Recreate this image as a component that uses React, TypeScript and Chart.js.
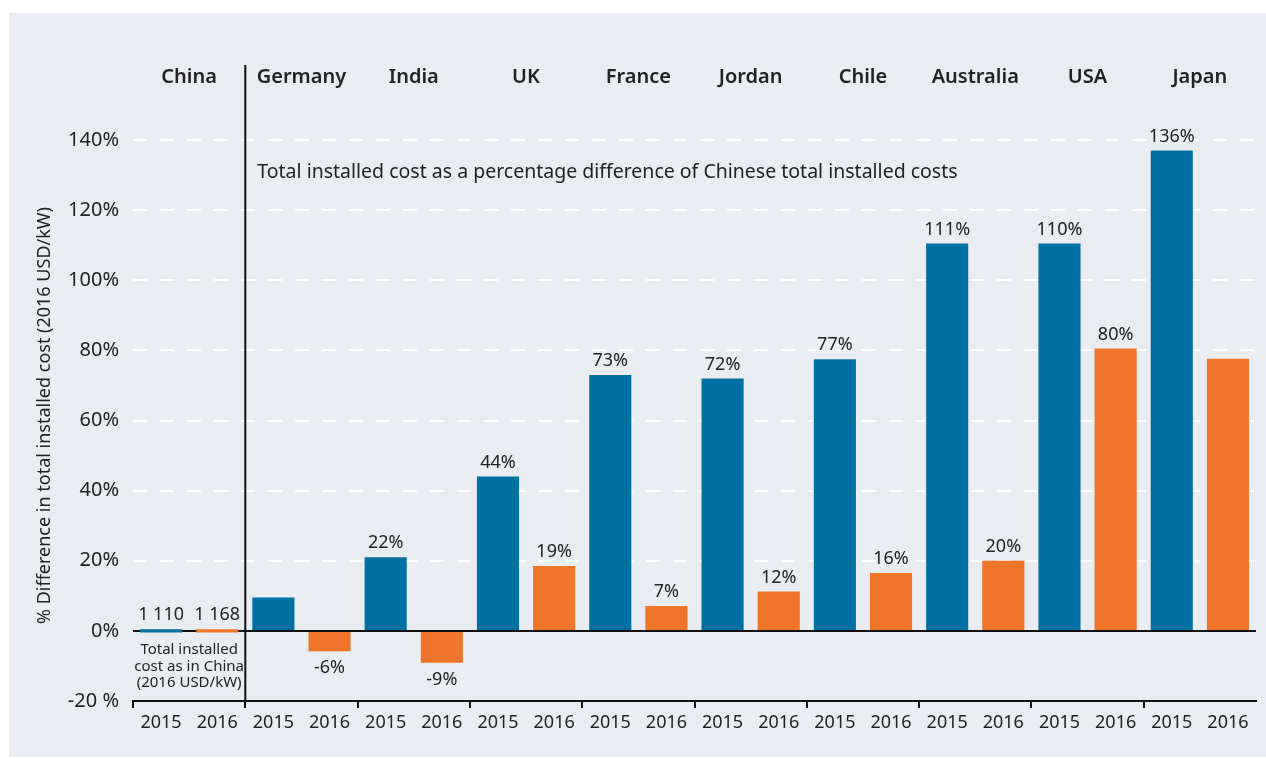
import React, { useEffect, useRef } from "react";
import { Chart, registerables } from "chart.js";

Chart.register(...registerables);

const countries = ["China", "Germany", "India", "UK", "France", "Jordan", "Chile", "Australia", "USA", "Japan"];
const years = ["2015", "2016"];
const values2015 = [0, 9.5, 21, 44, 73, 72, 77.5, 110.5, 110.5, 137];
const values2016 = [0, -5.8, -9.1, 18.5, 7.1, 11.2, 16.5, 20, 80.5, 77.6];
const labels2015 = ["1 110", "", "22%", "44%", "73%", "72%", "77%", "111%", "110%", "136%"];
const labels2016 = ["1 168", "-6%", "-9%", "19%", "7%", "12%", "16%", "20%", "80%", ""];
const yTicks = [-20, 0, 20, 40, 60, 80, 100, 120, 140];
const annotation = "Total installed cost as a percentage difference of Chinese total installed costs";
const chinaNote = ["Total installed", "cost as in China", "(2016 USD/kW)"];
const yTitle = "% Difference in total installed cost (2016 USD/kW)";

const BLUE = "#0070a3";
const ORANGE = "#ee742a";
const BG = "#e9ecf1";
const FONT = "'Noto Sans', sans-serif";

export default function App() {
  const ref = useRef<HTMLCanvasElement>(null);
  useEffect(() => {
    document.body.style.margin = "0";
    const xLabels: string[] = [];
    const data: any[] = [];
    const colors: string[] = [];
    const texts: string[] = [];
    countries.forEach((c, i) => {
      xLabels.push(years[0], years[1]);
      const a = values2015[i];
      const b = values2016[i];
      data.push(a === 0 ? [-0.45, 0.45] : a, b === 0 ? [-0.45, 0.45] : b);
      colors.push(BLUE, ORANGE);
      texts.push(labels2015[i], labels2016[i]);
    });

    const custom = {
      id: "custom",
      beforeDraw(chart: any) {
        const ctx = chart.ctx;
        ctx.save();
        ctx.fillStyle = "#fff";
        ctx.fillRect(0, 0, chart.width, chart.height);
        ctx.fillStyle = BG;
        ctx.fillRect(9, 13, chart.width - 9, chart.height - 14);
        ctx.restore();
      },
      beforeDatasetsDraw(chart: any) {
        const ctx = chart.ctx;
        const y = chart.scales.y;
        const area = chart.chartArea;
        ctx.save();
        ctx.strokeStyle = "#111";
        ctx.lineWidth = 2;
        ctx.beginPath();
        const y0 = y.getPixelForValue(0);
        ctx.moveTo(area.left, y0);
        ctx.lineTo(area.right, y0);
        ctx.stroke();
        ctx.restore();
      },
      afterDatasetsDraw(chart: any) {
        const ctx = chart.ctx;
        const meta = chart.getDatasetMeta(0);
        const x = chart.scales.x;
        const y = chart.scales.y;
        const area = chart.chartArea;
        ctx.save();
        ctx.fillStyle = "#222";
        ctx.textAlign = "center";
        ctx.font = `18px ${FONT}`;
        meta.data.forEach((el: any, i: number) => {
          const t = texts[i];
          if (!t) return;
          const raw = data[i];
          const v = Array.isArray(raw) ? raw[1] : raw;
          if (v >= 0) {
            ctx.textBaseline = "bottom";
            ctx.fillText(t, el.x, Math.min(el.y, el.base) - 5);
          } else {
            ctx.textBaseline = "top";
            ctx.fillText(t, el.x, Math.max(el.y, el.base) + 8);
          }
        });
        // China note
        const cx = (x.getPixelForValue(0) + x.getPixelForValue(1)) / 2;
        ctx.font = `15px ${FONT}`;
        ctx.textBaseline = "middle";
        chinaNote.forEach((l, k) => ctx.fillText(l, cx, y.getPixelForValue(0) + 19 + k * 16.5));
        // separator
        const sx = (x.getPixelForValue(1) + x.getPixelForValue(2)) / 2;
        ctx.strokeStyle = "#111";
        ctx.lineWidth = 2;
        ctx.beginPath();
        ctx.moveTo(sx, 65);
        ctx.lineTo(sx, area.bottom);
        ctx.stroke();
        // country labels
        ctx.font = `600 20px ${FONT}`;
        ctx.textBaseline = "middle";
        countries.forEach((c, i) => {
          const px = (x.getPixelForValue(2 * i) + x.getPixelForValue(2 * i + 1)) / 2;
          ctx.fillText(c, px, 77);
        });
        // annotation
        ctx.font = `19.5px ${FONT}`;
        ctx.textAlign = "left";
        ctx.fillText(annotation, sx + 12, 172);
        // y title
        ctx.translate(45, (area.top + area.bottom) / 2 - 5);
        ctx.rotate(-Math.PI / 2);
        ctx.textAlign = "center";
        ctx.font = `18px ${FONT}`;
        ctx.fillText(yTitle, 0, 0);
        ctx.restore();
      },
    };

    const chart = new Chart(ref.current!, {
      type: "bar",
      data: {
        labels: xLabels,
        datasets: [
          {
            data,
            backgroundColor: colors,
            barPercentage: 0.75,
            categoryPercentage: 1,
          },
        ],
      },
      options: {
        animation: false,
        responsive: false,
        layout: { padding: { top: 140, right: 10, left: 0, bottom: 0 } },
        plugins: { legend: { display: false }, tooltip: { enabled: false } },
        scales: {
          x: {
            afterFit: (s: any) => {
              s.height = 57;
            },
            grid: {
              offset: true,
              drawOnChartArea: false,
              tickLength: 7,
              lineWidth: 2,
              color: (c: any) => (c.index % 2 === 0 ? "#111" : "rgba(0,0,0,0)"),
            },
            border: { display: true, color: "#111", width: 2 },
            ticks: { color: "#222", font: { size: 18, family: FONT }, padding: 4, maxRotation: 0, autoSkip: false },
          },
          y: {
            min: -20,
            max: 140,
            afterFit: (s: any) => {
              s.width = 133;
            },
            afterBuildTicks: (s: any) => {
              s.ticks = yTicks.map((v) => ({ value: v }));
            },
            grid: {
              drawTicks: false,
              lineWidth: 2,
              color: (c: any) => (c.tick && (c.tick.value === 0 || c.tick.value === -20) ? "rgba(0,0,0,0)" : "#ffffff"),
            },
            border: { display: false, dash: [14, 13] },
            ticks: {
              color: "#222",
              padding: 14,
              font: { size: 20, family: FONT },
              callback: (v: any) => (v === -20 ? "-20 %" : `${v}%`),
            },
          },
        },
      },
      plugins: [custom],
    });
    return () => chart.destroy();
  }, []);
  return (
    <div style={{ width: 1266, height: 758 }}>
      <canvas ref={ref} width={1266} height={758} style={{ display: "block" }} />
    </div>
  );
}
